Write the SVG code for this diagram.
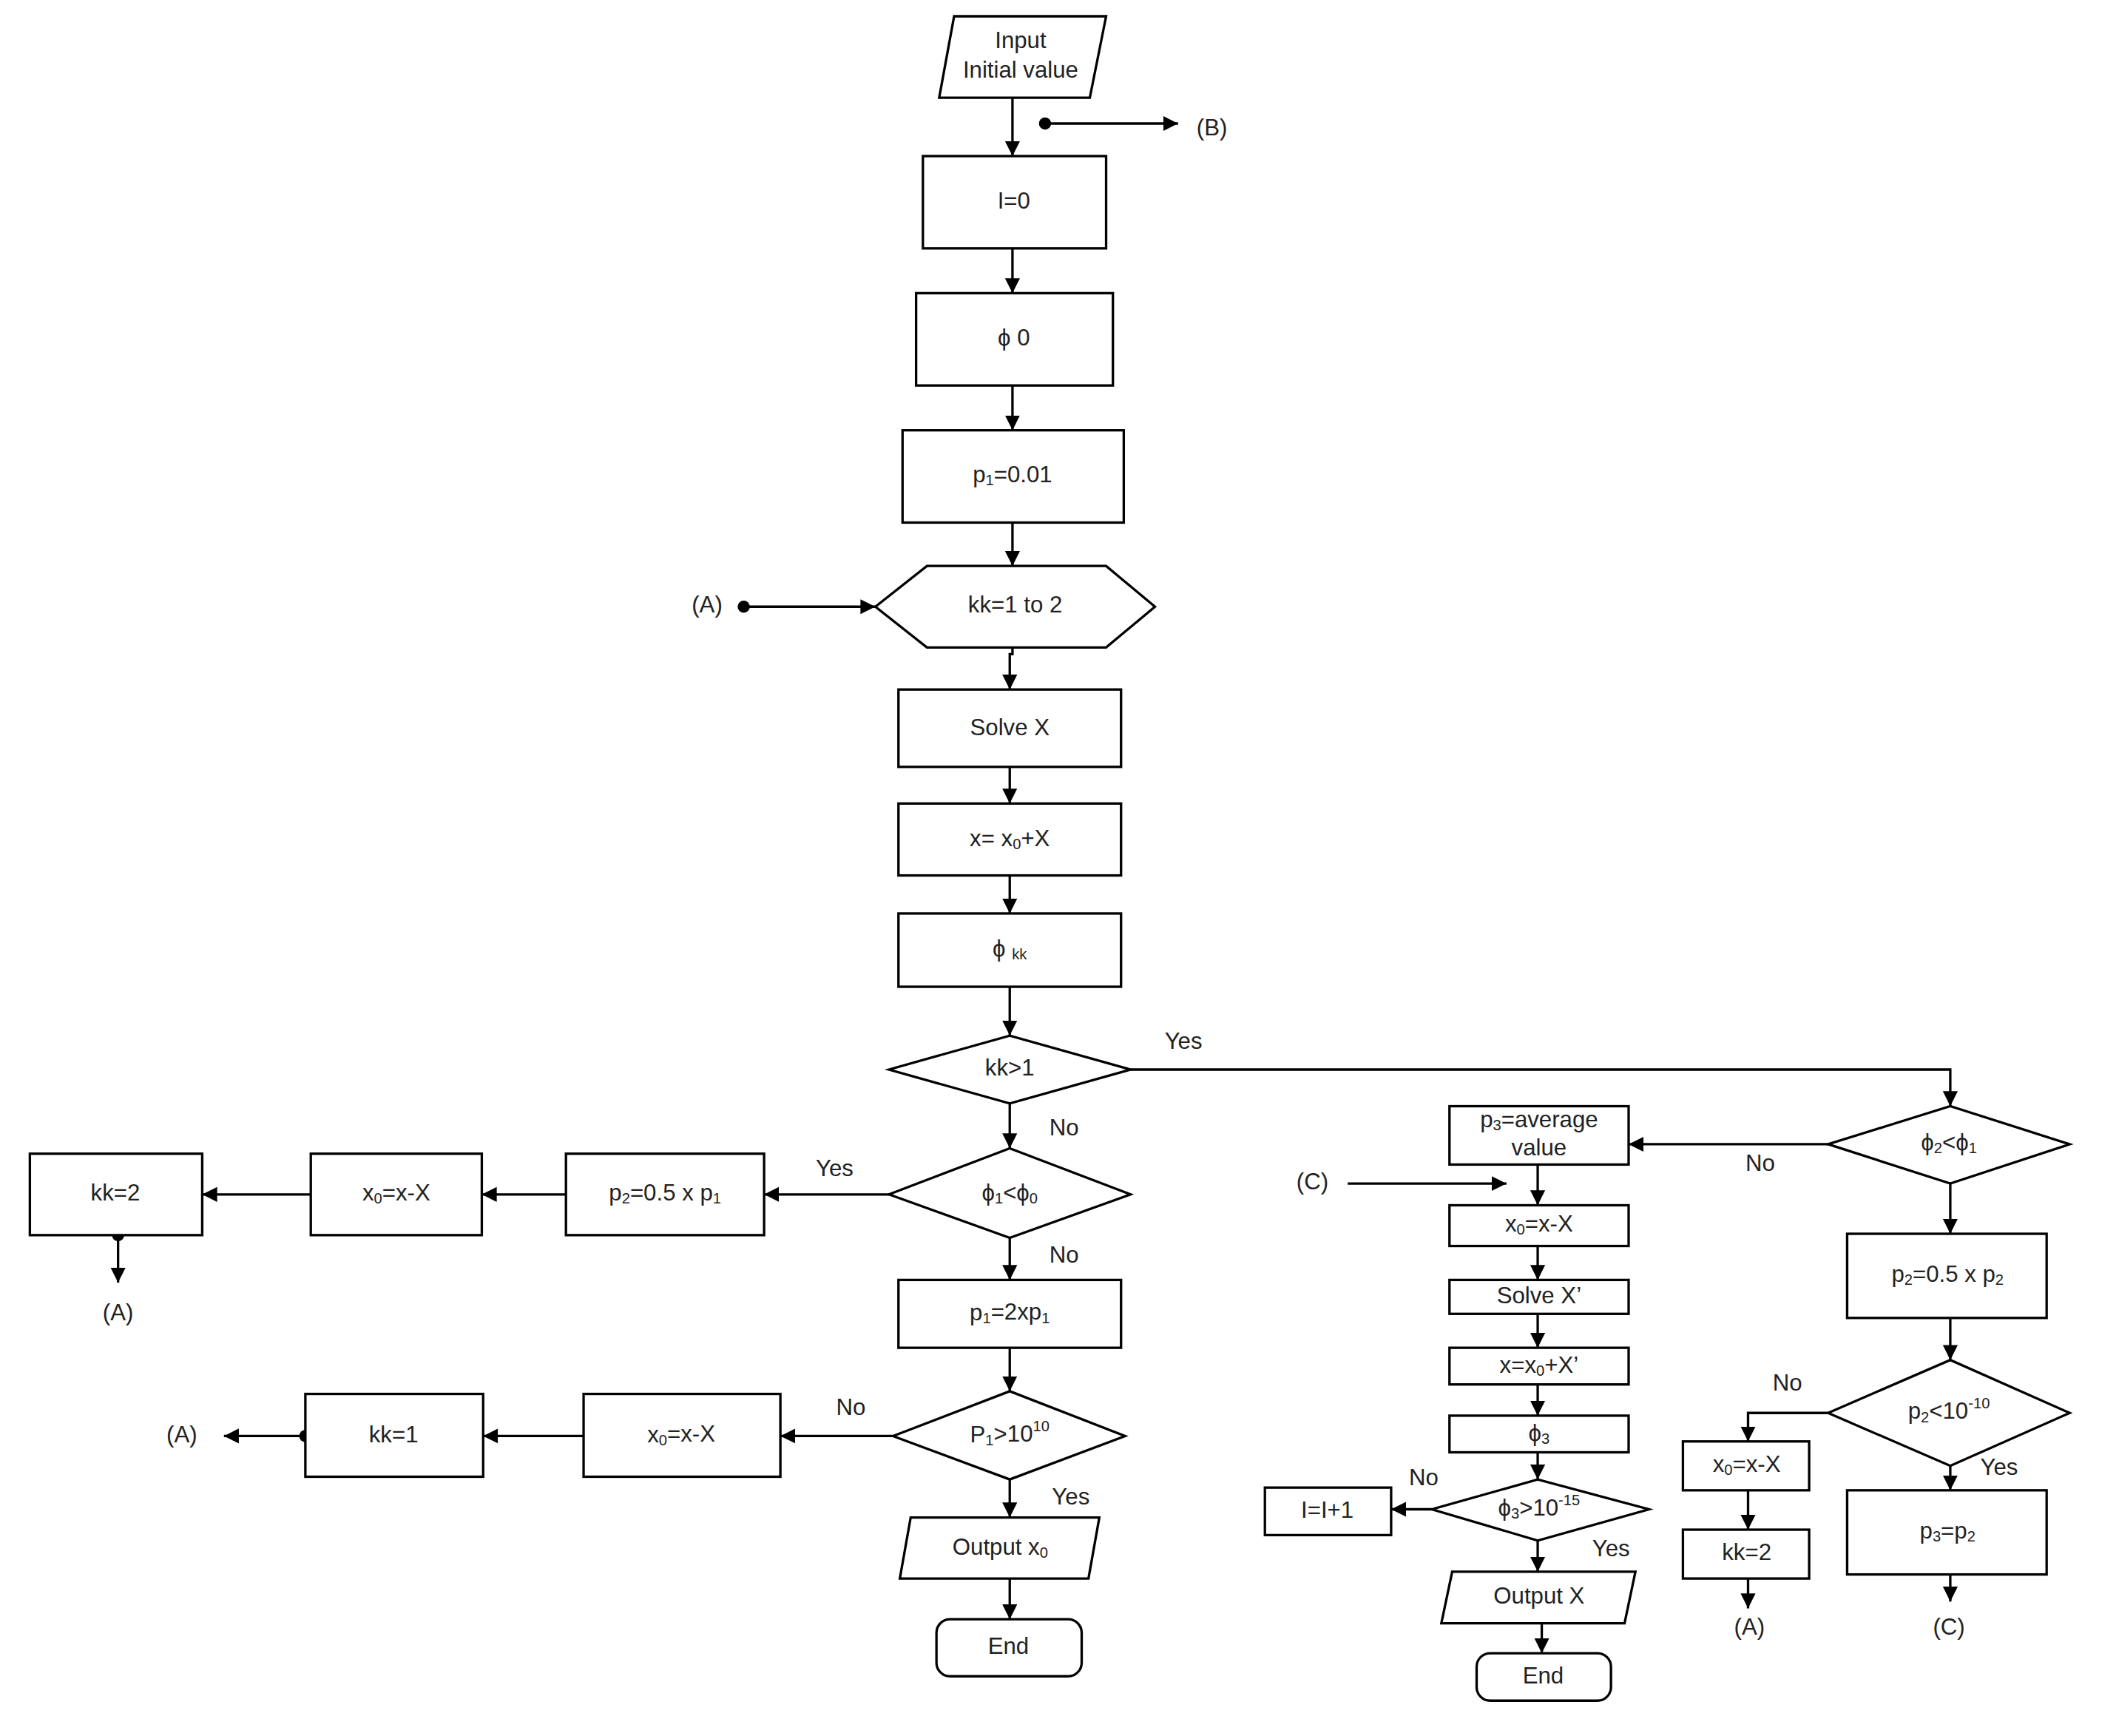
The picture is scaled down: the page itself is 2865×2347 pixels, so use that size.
<svg xmlns="http://www.w3.org/2000/svg" width="2865" height="2347" viewBox="0 0 2865 2347">
<style>
.n{fill:#fff;stroke:#000;stroke-width:1.8}
text{font-family:"Liberation Sans",Arial,sans-serif;font-size:17px;fill:#222;text-anchor:middle;dominant-baseline:middle}
.c path,.c line{fill:none;stroke:#000;stroke-width:1.8}
.s{font-size:11px}
</style>
<defs>
<marker id="ah" markerUnits="userSpaceOnUse" markerWidth="12" markerHeight="12" refX="11" refY="5.5" orient="auto"><path d="M0,0 L11,5.5 L0,11 Z" fill="#000"/></marker>
</defs>
<rect width="2865" height="2347" fill="#fff"/>
<g transform="scale(1.835)">
<g class="c" id="connectors">
<line x1="746" y1="72" x2="746" y2="115" marker-end="url(#ah)"/>
<line x1="770" y1="91" x2="868" y2="91" marker-end="url(#ah)"/>
<circle cx="770" cy="91" r="4.5"/>
<line x1="746" y1="183" x2="746" y2="216" marker-end="url(#ah)"/>
<line x1="746" y1="284" x2="746" y2="317" marker-end="url(#ah)"/>
<line x1="746" y1="385" x2="746" y2="417" marker-end="url(#ah)"/>
<line x1="548" y1="447" x2="645" y2="447" marker-end="url(#ah)"/>
<circle cx="548" cy="447" r="4.5"/>
<path d="M746,477 V482 H744 V508" marker-end="url(#ah)"/>
<line x1="744" y1="565" x2="744" y2="592" marker-end="url(#ah)"/>
<line x1="744" y1="645" x2="744" y2="673" marker-end="url(#ah)"/>
<line x1="744" y1="727" x2="744" y2="763" marker-end="url(#ah)"/>
<path d="M833,788 H1437 V815" marker-end="url(#ah)"/>
<line x1="744" y1="813" x2="744" y2="846" marker-end="url(#ah)"/>
<line x1="655" y1="880" x2="563" y2="880" marker-end="url(#ah)"/>
<line x1="417" y1="880" x2="355" y2="880" marker-end="url(#ah)"/>
<line x1="229" y1="880" x2="149" y2="880" marker-end="url(#ah)"/>
<line x1="87" y1="910" x2="87" y2="945" marker-end="url(#ah)"/>
<circle cx="87" cy="910" r="4.5"/>
<line x1="744" y1="912" x2="744" y2="943" marker-end="url(#ah)"/>
<line x1="744" y1="993" x2="744" y2="1025" marker-end="url(#ah)"/>
<line x1="658" y1="1058" x2="575" y2="1058" marker-end="url(#ah)"/>
<line x1="430" y1="1058" x2="356" y2="1058" marker-end="url(#ah)"/>
<line x1="225" y1="1058" x2="165" y2="1058" marker-end="url(#ah)"/>
<circle cx="225" cy="1058" r="4.5"/>
<line x1="744" y1="1090" x2="744" y2="1118" marker-end="url(#ah)"/>
<line x1="744" y1="1163" x2="744" y2="1193" marker-end="url(#ah)"/>
<line x1="1347" y1="843" x2="1200" y2="843" marker-end="url(#ah)"/>
<line x1="1133" y1="858" x2="1133" y2="888" marker-end="url(#ah)"/>
<line x1="993" y1="872" x2="1110" y2="872" marker-end="url(#ah)"/>
<line x1="1133" y1="918" x2="1133" y2="943" marker-end="url(#ah)"/>
<line x1="1133" y1="968" x2="1133" y2="993" marker-end="url(#ah)"/>
<line x1="1133" y1="1020" x2="1133" y2="1043" marker-end="url(#ah)"/>
<line x1="1133" y1="1070" x2="1133" y2="1090" marker-end="url(#ah)"/>
<line x1="1055" y1="1112" x2="1025" y2="1112" marker-end="url(#ah)"/>
<line x1="1133" y1="1135" x2="1133" y2="1158" marker-end="url(#ah)"/>
<line x1="1136" y1="1196" x2="1136" y2="1218" marker-end="url(#ah)"/>
<line x1="1437" y1="872" x2="1437" y2="909" marker-end="url(#ah)"/>
<line x1="1437" y1="971" x2="1437" y2="1002" marker-end="url(#ah)"/>
<path d="M1347,1041 H1288 V1062" marker-end="url(#ah)"/>
<line x1="1288" y1="1098" x2="1288" y2="1127" marker-end="url(#ah)"/>
<line x1="1288" y1="1163" x2="1288" y2="1185" marker-end="url(#ah)"/>
<line x1="1437" y1="1080" x2="1437" y2="1098" marker-end="url(#ah)"/>
<line x1="1437" y1="1160" x2="1437" y2="1180" marker-end="url(#ah)"/>
</g>
<g id="labels">
<text x="893" y="95">(B)</text>
<text x="521" y="447">(A)</text>
<text x="87" y="968">(A)</text>
<text x="134" y="1058">(A)</text>
<text x="967" y="872">(C)</text>
<text x="1289" y="1200">(A)</text>
<text x="1436" y="1200">(C)</text>
<text x="872" y="768">Yes</text>
<text x="784" y="832">No</text>
<text x="615" y="862">Yes</text>
<text x="784" y="926">No</text>
<text x="627" y="1038">No</text>
<text x="789" y="1104">Yes</text>
<text x="1297" y="858">No</text>
<text x="1049" y="1090">No</text>
<text x="1187" y="1142">Yes</text>
<text x="1317" y="1020">No</text>
<text x="1473" y="1082">Yes</text>
</g>
<g id="input"><path class="n" d="M703,12 H815 L803,72 H692 Z"/><text x="752" y="31">Input</text><text x="752" y="53">Initial value</text></g>
<g id="i0"><rect class="n" x="680" y="115" width="135" height="68"/><text x="747" y="149">I=0</text></g>
<g id="phi0"><rect class="n" x="675" y="216" width="145" height="68"/><text x="747" y="250">ϕ 0</text></g>
<g id="p1"><rect class="n" x="665" y="317" width="163" height="68"/><text x="746" y="351">p<tspan class="s" dy="4">1</tspan><tspan dy="-4">=0.01</tspan></text></g>
<g id="loop"><path class="n" d="M645,447 L683,417 H815 L851,447 L815,477 H683 Z"/><text x="748" y="447">kk=1 to 2</text></g>
<g id="solvex"><rect class="n" x="662" y="508" width="164" height="57"/><text x="744" y="537">Solve X</text></g>
<g id="xsum"><rect class="n" x="662" y="592" width="164" height="53"/><text x="744" y="619">x= x<tspan class="s" dy="4">0</tspan><tspan dy="-4">+X</tspan></text></g>
<g id="phikk"><rect class="n" x="662" y="673" width="164" height="54"/><text x="744" y="700">ϕ <tspan class="s" dy="4">kk</tspan></text></g>
<g id="d_kk"><path class="n" d="M655,788 L744,763 L833,788 L744,813 Z"/><text x="744" y="788">kk&gt;1</text></g>
<g id="d_phi1"><path class="n" d="M655,880 L744,846 L833,880 L744,912 Z"/><text x="744" y="880">ϕ<tspan class="s" dy="4">1</tspan><tspan dy="-4">&lt;ϕ</tspan><tspan class="s" dy="4">0</tspan></text></g>
<g id="p2a"><rect class="n" x="417" y="850" width="146" height="60"/><text x="490" y="880">p<tspan class="s" dy="4">2</tspan><tspan dy="-4">=0.5 x p</tspan><tspan class="s" dy="4">1</tspan></text></g>
<g id="x0a"><rect class="n" x="229" y="850" width="126" height="60"/><text x="292" y="880">x<tspan class="s" dy="4">0</tspan><tspan dy="-4">=x-X</tspan></text></g>
<g id="kk2a"><rect class="n" x="22" y="850" width="127" height="60"/><text x="85" y="880">kk=2</text></g>
<g id="p1b"><rect class="n" x="662" y="943" width="164" height="50"/><text x="744" y="968">p<tspan class="s" dy="4">1</tspan><tspan dy="-4">=2xp</tspan><tspan class="s" dy="4">1</tspan></text></g>
<g id="d_P1"><path class="n" d="M658,1058 L744,1025 L829,1058 L744,1090 Z"/><text x="744" y="1058">P<tspan class="s" dy="4">1</tspan><tspan dy="-4">&gt;10</tspan><tspan class="s" dy="-6">10</tspan></text></g>
<g id="x0b"><rect class="n" x="430" y="1027" width="145" height="61"/><text x="502" y="1058">x<tspan class="s" dy="4">0</tspan><tspan dy="-4">=x-X</tspan></text></g>
<g id="kk1"><rect class="n" x="225" y="1027" width="131" height="61"/><text x="290" y="1058">kk=1</text></g>
<g id="out0"><path class="n" d="M671,1118 H810 L802,1163 H663 Z"/><text x="737" y="1141">Output x<tspan class="s" dy="4">0</tspan></text></g>
<g id="end1"><rect class="n" x="690" y="1193" width="107" height="42" rx="10"/><text x="743" y="1214">End</text></g>
<g id="d_phi2"><path class="n" d="M1347,843 L1437,815 L1525,843 L1437,872 Z"/><text x="1436" y="843">ϕ<tspan class="s" dy="4">2</tspan><tspan dy="-4">&lt;ϕ</tspan><tspan class="s" dy="4">1</tspan></text></g>
<g id="p3avg"><rect class="n" x="1068" y="815" width="132" height="43"/><text x="1134" y="826">p<tspan class="s" dy="4">3</tspan><tspan dy="-4">=average</tspan></text><text x="1134" y="847">value</text></g>
<g id="x0c"><rect class="n" x="1068" y="888" width="132" height="30"/><text x="1134" y="903">x<tspan class="s" dy="4">0</tspan><tspan dy="-4">=x-X</tspan></text></g>
<g id="solvex2"><rect class="n" x="1068" y="943" width="132" height="25"/><text x="1134" y="956">Solve X’</text></g>
<g id="xsum2"><rect class="n" x="1068" y="993" width="132" height="27"/><text x="1134" y="1007">x=x<tspan class="s" dy="4">0</tspan><tspan dy="-4">+X’</tspan></text></g>
<g id="phi3"><rect class="n" x="1068" y="1043" width="132" height="27"/><text x="1134" y="1057">ϕ<tspan class="s" dy="4">3</tspan></text></g>
<g id="d_phi3"><path class="n" d="M1055,1112 L1133,1090 L1215,1112 L1133,1135 Z"/><text x="1134" y="1112">ϕ<tspan class="s" dy="4">3</tspan><tspan dy="-4">&gt;10</tspan><tspan class="s" dy="-6">-15</tspan></text></g>
<g id="iinc"><rect class="n" x="932" y="1096" width="93" height="35"/><text x="978" y="1114">I=I+1</text></g>
<g id="outx"><path class="n" d="M1070,1158 H1205 L1197,1196 H1062 Z"/><text x="1134" y="1177">Output X</text></g>
<g id="end2"><rect class="n" x="1088" y="1218" width="99" height="35" rx="10"/><text x="1137" y="1236">End</text></g>
<g id="p2b"><rect class="n" x="1361" y="909" width="147" height="62"/><text x="1435" y="940">p<tspan class="s" dy="4">2</tspan><tspan dy="-4">=0.5 x p</tspan><tspan class="s" dy="4">2</tspan></text></g>
<g id="d_p2"><path class="n" d="M1347,1041 L1437,1002 L1525,1041 L1437,1080 Z"/><text x="1436" y="1041">p<tspan class="s" dy="4">2</tspan><tspan dy="-4">&lt;10</tspan><tspan class="s" dy="-6">-10</tspan></text></g>
<g id="x0d"><rect class="n" x="1240" y="1062" width="93" height="36"/><text x="1287" y="1080">x<tspan class="s" dy="4">0</tspan><tspan dy="-4">=x-X</tspan></text></g>
<g id="kk2b"><rect class="n" x="1240" y="1127" width="93" height="36"/><text x="1287" y="1145">kk=2</text></g>
<g id="p3p2"><rect class="n" x="1361" y="1098" width="147" height="62"/><text x="1435" y="1129">p<tspan class="s" dy="4">3</tspan><tspan dy="-4">=p</tspan><tspan class="s" dy="4">2</tspan></text></g>
</g>
</svg>
